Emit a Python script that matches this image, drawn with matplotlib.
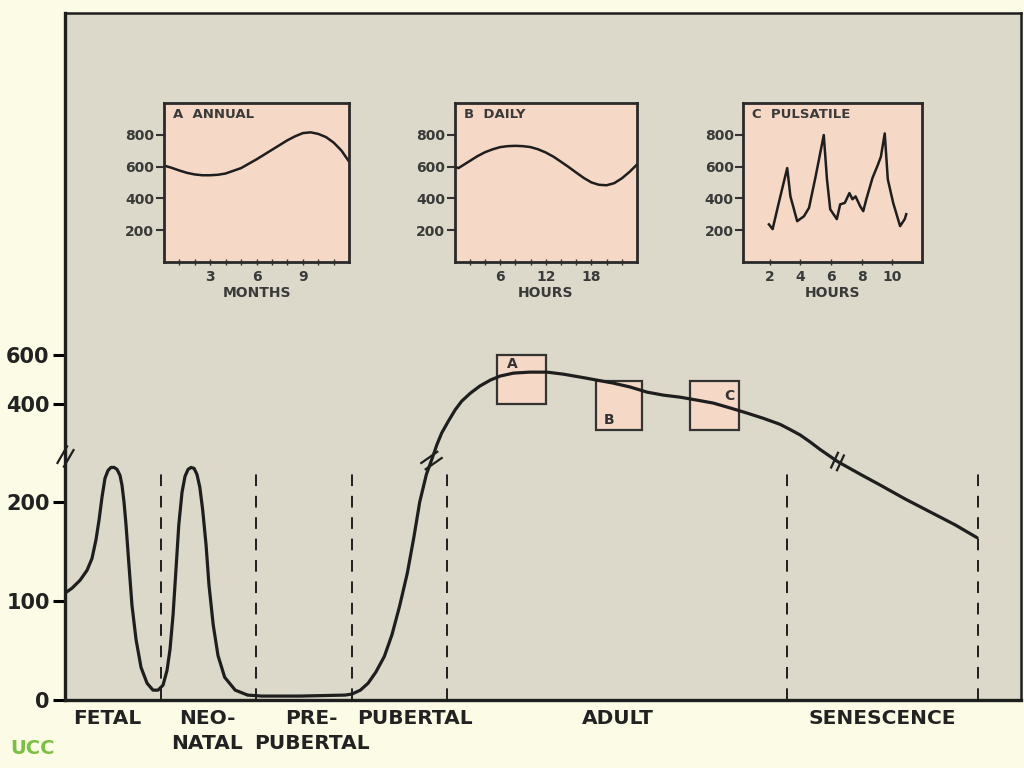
import matplotlib
matplotlib.use('Agg')
import matplotlib.pyplot as plt
from matplotlib.patches import Rectangle
from matplotlib.path import Path
import matplotlib.transforms as mtransforms
import numpy as np

# ---- main curve: life stage (arbitrary 0-100) vs level ----
life_x = [0, 0.73, 1.57, 2.3, 2.82, 3.24, 3.56, 3.87, 4.18, 4.5, 4.81, 5.13, 5.44, 5.75,
          5.96, 6.17, 6.38, 6.69, 7.0, 7.43, 7.95, 8.58, 9.2, 9.73, 10.25, 10.67, 10.98,
          11.3, 11.6, 11.9, 12.24, 12.55, 12.87, 13.18, 13.5, 13.8, 14.1, 14.4, 14.75,
          15.06, 15.5, 16.0, 16.7, 17.8, 19.1, 20.6, 24.6, 29.3,
          30.0, 30.9, 31.7, 32.5, 33.4, 34.2, 35.0, 35.8, 36.5, 37.1, 37.8, 38.4,
          38.9, 39.4, 40.1, 40.8, 41.5, 42.4, 43.4, 44.5, 45.5, 46.9, 48.6, 50.4,
          52.1, 53.9, 55.6, 57.3, 59.1, 60.9, 62.6, 64.3, 66.1, 67.8, 69.6, 71.3,
          73.0, 74.8, 75.8, 76.9, 77.9, 79.0, 80.8, 83.2, 85.3, 87.9, 90.5, 93.1, 95.4]
life_y = [108, 113, 121, 131, 143, 162, 182, 205, 224, 232, 235, 235, 233, 227,
          217, 200, 177, 136, 96, 61, 33, 17, 10, 10, 15, 30, 51,
          86, 131, 177, 210, 226, 233, 235, 234, 228, 215, 192, 157,
          116, 76, 45, 23, 10, 5, 4, 4, 5,
          6, 10, 17, 28, 44, 66, 95, 128, 165, 200, 228, 244,
          258, 283, 331, 376, 412, 444, 473, 497, 513, 525, 529, 529,
          521, 509, 497, 485, 469, 448, 436, 428, 416, 404, 384, 364,
          343, 318, 298, 275, 261, 253, 241, 228, 217, 203, 190, 177, 164]

stage_bounds = [10, 20, 30, 40, 75.5, 95.5]
stage_names = ['FETAL', 'NEO-\nNATAL', 'PRE-\nPUBERTAL', 'PUBERTAL', 'ADULT', 'SENESCENCE']
stage_centers = [4.4, 14.9, 25.8, 36.6, 57.8, 85.5]
main_yticks = [0, 100, 200, 400, 600]

# sampling windows on the adult curve
win_labels = ['A', 'B', 'C']
win_x = [(45.2, 50.3), (55.5, 60.4), (65.4, 70.5)]
win_y = [(400, 600), (295, 495), (295, 495)]

# ---- inset data ----
annual_month = [0, 0.5, 1, 1.5, 2, 2.5, 3, 3.5, 4, 5, 6, 7, 8, 8.5, 9, 9.5, 10, 10.5, 11, 11.5, 12]
annual_val = [606, 592, 575, 560, 550, 545, 545, 548, 556, 590, 645, 705, 765, 790, 810, 815, 805, 785, 750, 700, 630]

daily_hour = [0, 0.5, 1, 2, 3, 4, 5, 6, 7, 8, 9, 10, 11, 12, 13, 14, 15, 16, 17, 18, 19, 20, 21, 22, 23, 24]
daily_val = [600, 590, 605, 635, 665, 690, 708, 722, 728, 730, 728, 722, 708, 688, 662, 630, 597, 562, 528, 500, 485, 482, 495, 525, 565, 612]

puls_hour = [1.96, 2.2, 2.6, 3.15, 3.36, 3.8, 4.24, 4.57, 5.0, 5.53, 5.74, 5.95, 6.38,
             6.6, 6.9, 7.2, 7.4, 7.6, 7.9, 8.1, 8.3, 8.7, 9.05, 9.25, 9.5, 9.7,
             10.05, 10.5, 10.8, 10.9]
puls_val = [236, 206, 371, 590, 412, 256, 287, 340, 537, 798, 519, 331, 269,
            362, 371, 433, 394, 412, 350, 319, 394, 527, 610, 662, 808, 519,
            371, 225, 269, 300]

BG_OUT = '#fbfbe6'
BG_AX = '#dcd8ca'
PINK = '#f6d8c6'
INK = '#1e1e1e'


# broken scale: linear up to 265, compressed by 4 above
def fwd(v):
    v = np.asarray(v, dtype=float)
    return np.where(v <= 265, v, 199 + 0.25 * v)


def inv(p):
    p = np.asarray(p, dtype=float)
    return np.where(p <= 265, p, (p - 199) * 4)


def slash_marker(angle):
    a = np.deg2rad(angle)
    d = np.array([np.cos(a), np.sin(a)])
    n = np.array([d[1], -d[0]])
    verts = []
    for off in (-0.35, 0.35):
        c = n * off
        verts += [tuple(c - d), tuple(c + d)]
    codes = [Path.MOVETO, Path.LINETO, Path.MOVETO, Path.LINETO]
    return Path(verts, codes)


fig = plt.figure(figsize=(10.24, 7.68), dpi=100, facecolor=BG_OUT)
ax = fig.add_axes([0.0635, 0.0885, 0.9336, 0.8945])
ax.set_facecolor(BG_AX)
ax.set_yscale('function', functions=(fwd, inv))
ax.set_xlim(0, 100)
ax.set_ylim(0, 1980)

ax.plot(life_x, life_y, color=INK, lw=2.3, solid_capstyle='round', solid_joinstyle='round', zorder=3)

ax.vlines(stage_bounds, 0, 235, colors=INK, lw=1.4, linestyles=(0, (6, 5)), zorder=2)

for (x0, x1), (y0, y1), lab in zip(win_x, win_y, win_labels):
    ax.add_patch(Rectangle((x0, y0), x1 - x0, y1 - y0, facecolor=PINK, edgecolor='#333333',
                           lw=1.6, zorder=2))
ax.text(46.2, 545, 'A', fontsize=10, fontweight='bold', color='#333333', zorder=4)
ax.text(56.3, 320, 'B', fontsize=10, fontweight='bold', color='#333333', zorder=4)
ax.text(69.0, 415, 'C', fontsize=10, fontweight='bold', color='#333333', zorder=4)

# break marks
ax.plot([0], [247], marker=slash_marker(60), ms=16, mew=1.6, color=INK, clip_on=False,
        linestyle='none', zorder=5)
ax.plot([38.3], [242], marker=slash_marker(35), ms=16, mew=1.6, color=INK,
        linestyle='none', zorder=5)
ax.plot([80.8], [241], marker=slash_marker(65), ms=14, mew=1.6, color=INK,
        linestyle='none', zorder=5)

ax.set_yticks(main_yticks)
ax.set_yticklabels([str(t) for t in main_yticks], fontsize=15, fontweight='bold', color='#222222')
ax.yaxis.set_minor_locator(matplotlib.ticker.NullLocator())
ax.tick_params(axis='y', direction='out', length=9, width=2.2, pad=2)
ax.set_xticks([])
for side, sp in ax.spines.items():
    sp.set_color(INK)
    sp.set_linewidth(2.4 if side in ('left', 'bottom') else 1.8)

# stage labels, one text per line
trans = mtransforms.blended_transform_factory(ax.transData, ax.transAxes)
for cx, name in zip(stage_centers, stage_names):
    for i, line in enumerate(name.split('\n')):
        ax.text(cx, -0.013 - 0.036 * i, line, transform=trans, ha='center', va='top',
                fontsize=14.5, fontweight='bold', color='#222222')

fig.text(0.01, 0.018, 'UCC', fontsize=14, fontweight='bold', color='#7cbf45')


def inset(rect, xs, ys, xlim, majors, minors, title, xlabel):
    a = fig.add_axes(rect)
    a.set_facecolor(PINK)
    a.plot(xs, ys, color=INK, lw=1.8)
    a.set_xlim(*xlim)
    a.set_ylim(0, 1000)
    a.set_yticks([200, 400, 600, 800])
    a.set_yticklabels(['200', '400', '600', '800'], fontsize=10, fontweight='bold', color='#3a3a3a')
    a.set_xticks(majors)
    a.set_xticklabels([str(m) for m in majors], fontsize=10, fontweight='bold', color='#3a3a3a')
    if minors:
        a.set_xticks(minors, minor=True)
    a.tick_params(axis='y', direction='out', length=6, width=1.5, pad=1, color='#333333')
    a.tick_params(axis='x', which='both', direction='inout', length=5, width=1.0, pad=3, color='#333333')
    a.set_xlabel(xlabel, fontsize=10, fontweight='bold', color='#3a3a3a', labelpad=2)
    a.text(0.05, 0.97, title, transform=a.transAxes, ha='left', va='top', fontsize=9.5,
           fontweight='bold', color='#3a3a3a')
    for sp in a.spines.values():
        sp.set_color('#2a2a2a')
        sp.set_linewidth(2.0)
    return a


inset([0.160, 0.659, 0.181, 0.207], annual_month, annual_val, (0, 12), [3, 6, 9],
      list(range(1, 12)), 'A  ANNUAL', 'MONTHS')
inset([0.444, 0.659, 0.178, 0.207], daily_hour, daily_val, (0, 24), [6, 12, 18],
      list(range(2, 24, 2)), 'B  DAILY', 'HOURS')
inset([0.726, 0.659, 0.174, 0.207], puls_hour, puls_val, (0.3, 11.9), [2, 4, 6, 8, 10],
      None, 'C  PULSATILE', 'HOURS')

fig.savefig('out.png', dpi=100, facecolor=BG_OUT)
